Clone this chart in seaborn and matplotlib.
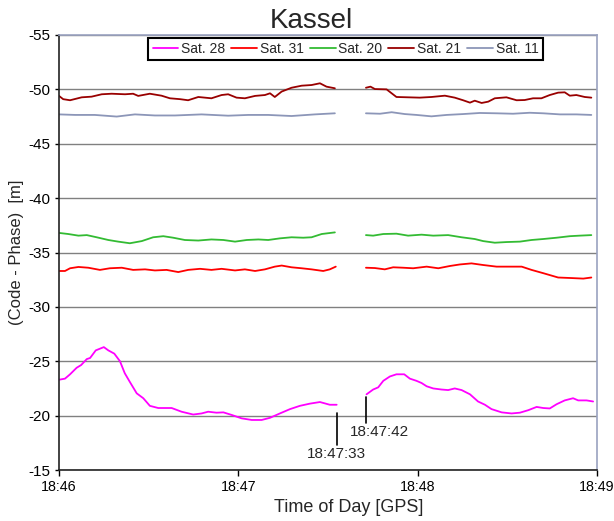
import numpy as np
import pandas as pd
import matplotlib
matplotlib.use("Agg")
import matplotlib.pyplot as plt
import seaborn as sns

# ---- data (seconds after 18:46:00, value in m) ----
sat28_t1 = [0, 2, 3.7, 5.9, 7.4, 9.3, 10.4, 12.3, 15, 16.5, 18.5, 20.4, 22, 23.7, 26, 28.2, 30.4, 33.2,
            37.7, 41, 44.9, 47.7, 49.9, 52.7, 55, 57.8, 61.1, 64.5, 67.8, 70.6, 73.9, 77.3, 80.6, 83.9,
            87.3, 90.6, 92.9]
sat28_v1 = [-23.3, -23.4, -23.8, -24.4, -24.65, -25.2, -25.3, -26.0, -26.3, -26.0, -25.7, -25.0, -23.9,
            -23.1, -22.05, -21.6, -20.9, -20.7, -20.7, -20.36, -20.1, -20.2, -20.36, -20.27, -20.3,
            -20.06, -19.75, -19.6, -19.6, -19.8, -20.2, -20.6, -20.9, -21.1, -21.25, -21.0, -21.0]
sat28_t2 = [102.9, 105.1, 106.8, 108.5, 110.7, 112.9, 115.5, 117.4, 119.6, 121.3, 123, 125.2, 128, 130.2,
            132.4, 134.7, 137.5, 140.2, 142.5, 144.7, 148.1, 151.4, 154.2, 157, 159.8, 162, 164.2,
            166.5, 169.2, 172, 173.7, 176.5, 178.7]
sat28_v2 = [-21.96, -22.4, -22.6, -23.2, -23.6, -23.8, -23.8, -23.4, -23.2, -23.0, -22.7, -22.5, -22.4,
            -22.35, -22.5, -22.35, -21.96, -21.3, -21.0, -20.6, -20.3, -20.2, -20.27, -20.5, -20.8,
            -20.7, -20.66, -21.05, -21.4, -21.6, -21.4, -21.4, -21.3]

sat31_t1 = [0, 2, 3.7, 6.5, 9.8, 13.7, 17, 21, 24.8, 28.8, 32.1, 36, 39.9, 43.2, 47.2, 51, 54.4, 58.9,
            62.2, 65.6, 68.9, 72.2, 74.5, 77.8, 81.2, 84.5, 88.4, 90.6, 92.6]
sat31_v1 = [-33.3, -33.3, -33.55, -33.67, -33.6, -33.4, -33.55, -33.6, -33.4, -33.45, -33.35, -33.4,
            -33.2, -33.4, -33.5, -33.4, -33.5, -33.35, -33.45, -33.3, -33.45, -33.7, -33.8, -33.64,
            -33.55, -33.45, -33.3, -33.45, -33.7]
sat31_t2 = [102.7, 105.7, 109, 111.8, 115.2, 118.5, 123, 126.9, 130.8, 134.1, 138, 141.9, 146.4, 150.8,
            154.8, 158.1, 162, 167, 171.5, 175.4, 178.1]
sat31_v2 = [-33.6, -33.57, -33.45, -33.64, -33.6, -33.55, -33.7, -33.55, -33.76, -33.9, -34.0, -33.85,
            -33.7, -33.7, -33.7, -33.4, -33.1, -32.7, -32.65, -32.6, -32.7]

sat20_t1 = [0, 3.1, 6.5, 9.3, 12.6, 16.5, 19.8, 23.7, 27.7, 31.5, 34.9, 38.2, 42.1, 46.6, 51, 55, 58.9,
            62.8, 66.7, 70, 73.9, 77.8, 81.7, 84.5, 87.9, 92.3]
sat20_v1 = [-36.8, -36.7, -36.55, -36.6, -36.4, -36.15, -36.0, -35.85, -36.05, -36.4, -36.5, -36.36,
            -36.15, -36.1, -36.2, -36.15, -36.0, -36.15, -36.2, -36.15, -36.3, -36.4, -36.36, -36.4,
            -36.7, -36.85]
sat20_t2 = [102.7, 105.1, 108.5, 112.9, 116.8, 121.3, 125.2, 130.2, 134.7, 139.1, 141.9, 145.8, 149.7,
            154.2, 158.1, 162, 166.5, 170.9, 174.2, 178.1]
sat20_v2 = [-36.6, -36.55, -36.7, -36.73, -36.55, -36.64, -36.55, -36.6, -36.4, -36.24, -36.05, -35.9,
            -35.96, -36.0, -36.15, -36.24, -36.36, -36.5, -36.55, -36.6]

sat21_t1 = [0, 1.4, 3.7, 7.6, 10.9, 14.3, 17.6, 22.1, 24.8, 26.5, 30.4, 34.3, 37.1, 40.5, 43.2, 46.6,
            51, 54.4, 56.6, 59.4, 62.2, 65.6, 68.9, 70.6, 72.2, 74.5, 77.8, 81.2, 84.5, 87.3, 89.5, 92.3]
sat21_v1 = [-49.4, -49.1, -49.0, -49.27, -49.33, -49.55, -49.6, -49.55, -49.6, -49.4, -49.6, -49.42,
            -49.18, -49.1, -49.0, -49.3, -49.18, -49.48, -49.55, -49.24, -49.18, -49.4, -49.48, -49.64,
            -49.3, -49.8, -50.15, -50.34, -50.4, -50.56, -50.25, -50.1]
sat21_t2 = [102.7, 104.2, 105.7, 109.6, 112.9, 116.8, 120.7, 124.6, 129.1, 132.4, 135.2, 137.5, 139.1,
            141.4, 143.6, 145.8, 149.7, 153.1, 155.8, 158.6, 161.4, 164.2, 167, 169.2, 170.9, 173.1,
            175.9, 178.1]
sat21_v2 = [-50.15, -50.25, -50.03, -50.0, -49.3, -49.27, -49.24, -49.3, -49.42, -49.24, -49.0, -48.78,
            -48.96, -48.75, -48.87, -49.18, -49.27, -49.0, -49.02, -49.18, -49.18, -49.48, -49.7,
            -49.73, -49.42, -49.48, -49.3, -49.24]

sat11_t1 = [0, 5.4, 12, 19.3, 25.4, 32.1, 38.8, 47.7, 56.6, 63.3, 70, 77.8, 85.6, 92.3]
sat11_v1 = [-47.7, -47.65, -47.65, -47.5, -47.7, -47.6, -47.6, -47.7, -47.58, -47.65, -47.65, -47.55,
            -47.7, -47.8]
sat11_t2 = [102.7, 107.4, 111.3, 115.7, 119.6, 124.6, 129.7, 135.2, 140.8, 146.4, 151.9, 157.5, 162,
            167.6, 173.1, 178.1]
sat11_v2 = [-47.8, -47.76, -47.9, -47.73, -47.65, -47.52, -47.65, -47.73, -47.83, -47.8, -47.76, -47.85,
            -47.8, -47.7, -47.7, -47.65]

series_names = ["Sat. 28", "Sat. 31", "Sat. 20", "Sat. 21", "Sat. 11"]
series_colors = ["#FF00FF", "#FF0000", "#33BB33", "#990000", "#8C96B8"]
xtick_pos = [0, 60, 120, 180]
xtick_labels = ["18:46", "18:47", "18:48", "18:49"]
gap_times = [92.9, 102.7]
gap_labels = ["18:47:33", "18:47:42"]

segments = {
    "Sat. 28": [(sat28_t1, sat28_v1), (sat28_t2, sat28_v2)],
    "Sat. 31": [(sat31_t1, sat31_v1), (sat31_t2, sat31_v2)],
    "Sat. 20": [(sat20_t1, sat20_v1), (sat20_t2, sat20_v2)],
    "Sat. 21": [(sat21_t1, sat21_v1), (sat21_t2, sat21_v2)],
    "Sat. 11": [(sat11_t1, sat11_v1), (sat11_t2, sat11_v2)],
}
rows = []
for name in series_names:
    for k, (ts, vs) in enumerate(segments[name]):
        for t, v in zip(ts, vs):
            rows.append({"t": t, "v": v, "sat": name, "seg": k})
df = pd.DataFrame(rows)

sns.set_theme(style="white")
plt.rcParams["font.family"] = ["Liberation Sans", "DejaVu Sans"]

fig = plt.figure(figsize=(6.14, 5.21), dpi=100)
ax = fig.add_axes([59 / 614, 1 - 470 / 521, 538 / 614, 435 / 521])

sns.lineplot(data=df, x="t", y="v", hue="sat", units="seg", estimator=None,
             palette=dict(zip(series_names, series_colors)), hue_order=series_names,
             linewidth=1.3, ax=ax)

ax.set_xlim(0, 180)
ax.set_ylim(-15, -55)
ax.set_yticks(np.arange(-55, -14, 5))
ax.set_yticklabels([str(v) for v in range(-55, -14, 5)])
ax.set_xticks(xtick_pos)
ax.set_xticklabels(xtick_labels)
ax.yaxis.grid(True, color="#808080", linewidth=1)
ax.xaxis.grid(False)
ax.tick_params(axis="y", labelsize=11, direction="out", length=3, width=1, pad=3.5,
               colors="black", left=True)
ax.tick_params(axis="x", labelsize=10.3, direction="out", length=4, width=1, pad=3,
               colors="black", bottom=True)
for side in ["left", "bottom"]:
    ax.spines[side].set_color("#222222")
    ax.spines[side].set_linewidth(1.2)
for side in ["top", "right"]:
    ax.spines[side].set_color("#9AA2C0")
    ax.spines[side].set_linewidth(1.2)

ax.set_title("Kassel", fontsize=20, pad=5, x=0.47)
ax.set_xlabel("Time of Day [GPS]", fontsize=13, labelpad=4, x=0.538)
ax.set_ylabel("(Code - Phase)  [m]", fontsize=12, labelpad=3)

# gap annotations
ax.plot([gap_times[0], gap_times[0]], [-20.24, -17.3], color="black", linewidth=1.2)
ax.text(gap_times[0], -16.5, gap_labels[0], ha="center", va="center", fontsize=11)
ax.plot([gap_times[1], gap_times[1]], [-21.74, -19.3], color="black", linewidth=1.2)
ax.text(97.3, -18.5, gap_labels[1], ha="left", va="center", fontsize=11)

leg = ax.legend(loc="upper center", bbox_to_anchor=(0.5325, 0.993), ncol=5, fontsize=10,
                frameon=True, fancybox=False, handlelength=1.87, handletextpad=0.2,
                columnspacing=0.42, borderpad=0.3, borderaxespad=0)
leg.get_frame().set_edgecolor("black")
leg.get_frame().set_linewidth(1.5)
leg.get_frame().set_facecolor("white")
leg.get_frame().set_alpha(1)

fig.savefig("out.png", dpi=100)
